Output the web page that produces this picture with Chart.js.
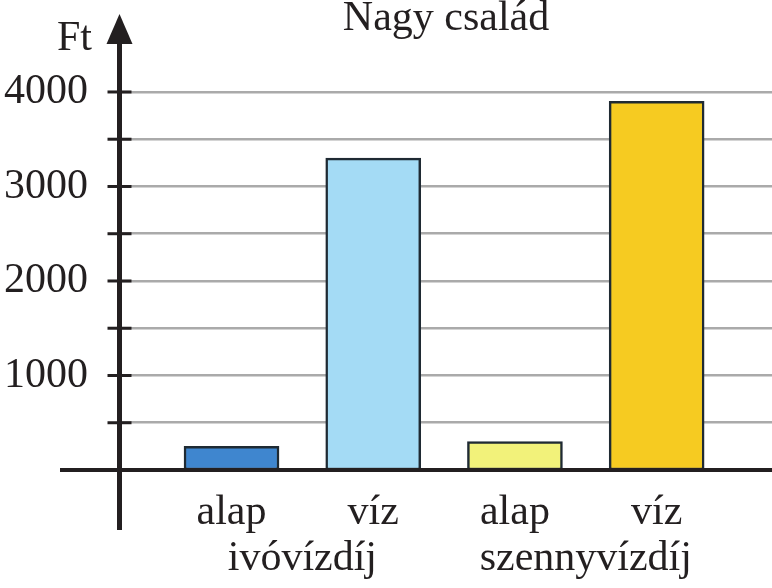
<!DOCTYPE html>
<html lang="hu">
  <head>
    <meta charset="UTF-8" />
    <title>Nagy család</title>
    <script src="https://cdn.jsdelivr.net/npm/chart.js"></script>
    <style>
      html,
      body {
        margin: 0;
        padding: 0;
        background: #fff;
      }
      #wrap {
        width: 772px;
        height: 588px;
      }
    </style>
  </head>
  <body>
    <div id="wrap"><canvas id="chart" width="772" height="588"></canvas></div>

    <script>
      // data
      const title = "Nagy család";
      const unit = "Ft";
      const barLabels = ["alap", "víz", "alap", "víz"];
      const groupLabels = ["ivóvízdíj", "szennyvízdíj"];
      const values = [250, 3300, 300, 3900];
      const barColors = ["#3f86cf", "#a4dbf5", "#f2f27a", "#f6cb21"];
      const yTickValues = [500, 1000, 1500, 2000, 2500, 3000, 3500, 4000];
      const yLabelValues = [1000, 2000, 3000, 4000];

      const ink = "#231f20";
      const font = "'Liberation Serif', 'DejaVu Serif', serif";

      // axes, arrow, ticks and texts drawn on top of the bars
      const axisPlugin = {
        id: "axisPlugin",
        afterDatasetsDraw(chart) {
          const ctx = chart.ctx;
          const x = chart.scales.x;
          const y = chart.scales.y;
          const area = chart.chartArea;
          const ax = area.left - 0.5;
          const y0 = y.getPixelForValue(0);

          ctx.save();
          ctx.strokeStyle = ink;
          ctx.fillStyle = ink;

          // horizontal axis
          ctx.lineWidth = 4;
          ctx.beginPath();
          ctx.moveTo(60, y0);
          ctx.lineTo(area.right, y0);
          ctx.stroke();

          // vertical axis
          ctx.lineWidth = 5;
          ctx.beginPath();
          ctx.moveTo(ax, area.bottom);
          ctx.lineTo(ax, area.top + 25);
          ctx.stroke();

          // arrow head
          ctx.beginPath();
          ctx.moveTo(ax, area.top);
          ctx.lineTo(ax - 13, area.top + 30);
          ctx.lineTo(ax + 13, area.top + 30);
          ctx.closePath();
          ctx.fill();

          // tick marks
          ctx.lineWidth = 3;
          yTickValues.forEach((v) => {
            const py = y.getPixelForValue(v);
            ctx.beginPath();
            ctx.moveTo(ax - 12, py);
            ctx.lineTo(ax + 12, py);
            ctx.stroke();
          });

          // unit
          ctx.font = "42px " + font;
          ctx.textAlign = "right";
          ctx.textBaseline = "alphabetic";
          ctx.fillText(unit, 92, 50);

          // title
          ctx.textAlign = "center";
          ctx.fillText(title, 446, 30);

          // bar labels
          barLabels.forEach((lab, i) => {
            ctx.fillText(lab, x.getPixelForValue(i), 524);
          });
          // group labels
          groupLabels.forEach((lab, i) => {
            ctx.fillText(lab, x.getPixelForValue(i * 2 + 0.5), 570);
          });
          ctx.restore();
        },
      };

      new Chart(document.getElementById("chart"), {
        type: "bar",
        data: {
          datasets: [
            {
              data: values.map((v, i) => ({ x: i, y: v })),
              backgroundColor: barColors,
              borderColor: "#1f2a33",
              borderWidth: 2.5,
              borderSkipped: false,
              barThickness: 95,
            },
          ],
        },
        options: {
          responsive: false,
          animation: false,
          devicePixelRatio: 1,
          layout: { padding: { top: 14, bottom: 58, left: 0, right: 0 } },
          plugins: {
            legend: { display: false },
            tooltip: { enabled: false },
          },
          scales: {
            x: {
              type: "linear",
              offset: false,
              min: -0.787,
              max: 3.814,
              display: false,
            },
            y: {
              min: -635,
              max: 4825,
              afterFit(scale) {
                scale.width = 120;
                scale.paddingTop = 0;
                scale.paddingBottom = 0;
              },
              afterBuildTicks(scale) {
                scale.ticks = yTickValues.map((v) => ({ value: v }));
              },
              border: { display: false },
              grid: {
                color: "#aaaaaa",
                lineWidth: 2.5,
                drawTicks: false,
              },
              ticks: {
                padding: 32,
                color: ink,
                font: { family: font, size: 42 },
                callback: (v) => (yLabelValues.includes(v) ? String(v) : ""),
              },
            },
          },
        },
        plugins: [axisPlugin],
      });
    </script>
  </body>
</html>
